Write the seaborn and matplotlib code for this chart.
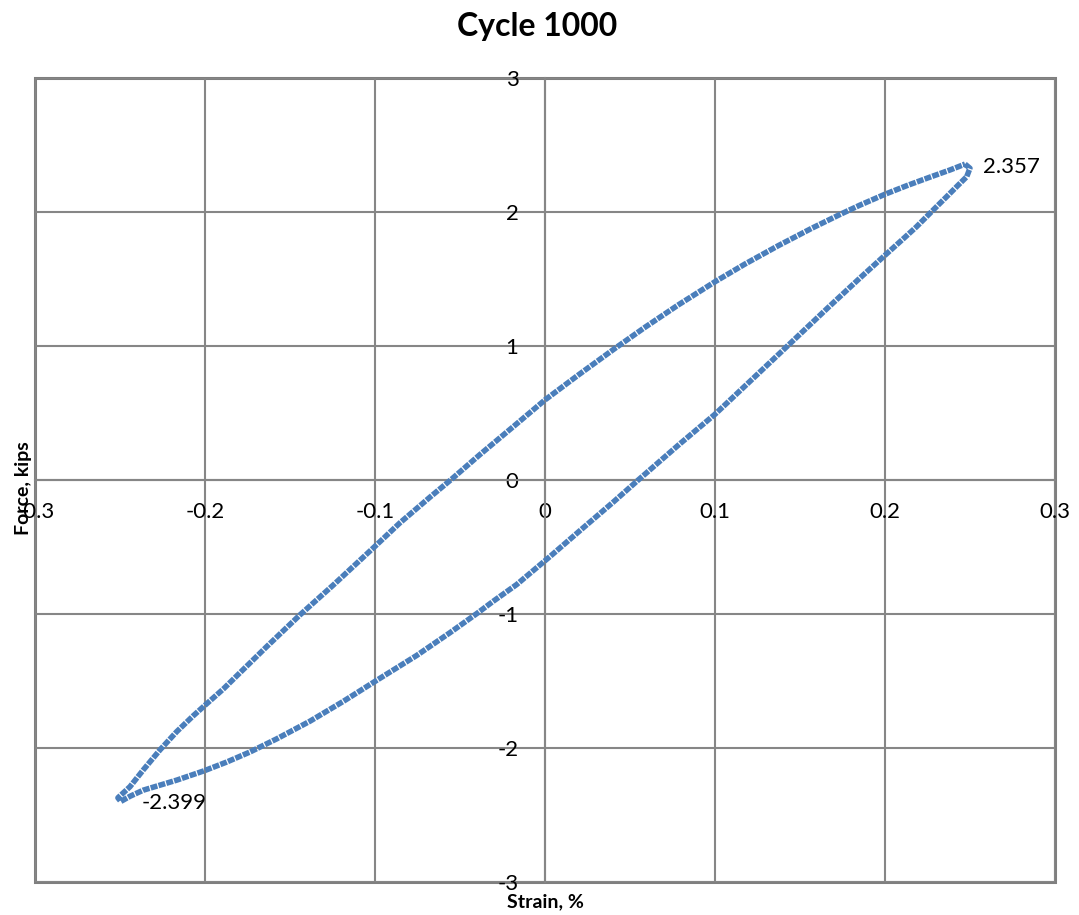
import matplotlib.pyplot as plt
import seaborn as sns

# hysteresis loop: unloading branch from the top tip,
# then the loading branch back up
strain = [0.2471, 0.2500, 0.2481, 0.2422, 0.2363, 0.2304, 0.2186, 0.2108, 0.2010, 0.1931,
          0.1853, 0.1667, 0.1431, 0.1176, 0.1000, 0.0794, 0.0549, 0.0402, 0.0206, 0.0029,
          -0.0166, -0.0304, -0.0402, -0.0559, -0.0755, -0.1002, -0.1186, -0.1382, -0.1578, -0.1735,
          -0.1872, -0.2004, -0.2166, -0.2363, -0.2440, -0.2495, -0.2512, -0.2441, -0.2363, -0.2265,
          -0.2166, -0.2069, -0.2004, -0.1892, -0.1637, -0.1441, -0.1245, -0.1002, -0.0853, -0.0676,
          -0.0550, -0.0382, -0.0186, 0.0000, 0.0196, 0.0412, 0.0588, 0.0784, 0.1000, 0.1176,
          0.1372, 0.1569, 0.1735, 0.1853, 0.2000, 0.2128, 0.2265, 0.2382, 0.2471]
force = [2.357, 2.326, 2.263, 2.189, 2.114, 2.040, 1.890, 1.800, 1.688, 1.597,
         1.507, 1.288, 1.005, 0.700, 0.490, 0.270, 0.000, -0.165, -0.378, -0.572,
         -0.780, -0.905, -0.998, -1.140, -1.310, -1.505, -1.652, -1.800, -1.932, -2.030,
         -2.105, -2.170, -2.240, -2.315, -2.360, -2.399, -2.372, -2.289, -2.164, -2.015,
         -1.878, -1.760, -1.686, -1.560, -1.244, -1.007, -0.784, -0.498, -0.320, -0.128,
         0.005, 0.190, 0.398, 0.597, 0.783, 0.982, 1.139, 1.306, 1.479, 1.611,
         1.748, 1.878, 1.981, 2.051, 2.132, 2.196, 2.260, 2.313, 2.357]

x_ticks = [-0.3, -0.2, -0.1, 0, 0.1, 0.2, 0.3]
x_tick_labels = ["-0.3", "-0.2", "-0.1", "0", "0.1", "0.2", "0.3"]
y_ticks = [-3, -2, -1, 0, 1, 2, 3]
y_tick_labels = ["-3", "-2", "-1", "0", "1", "2", "3"]

sns.set_style("white")
plt.rcParams['font.family'] = ['Lato', 'DejaVu Sans']
plt.rcParams['text.color'] = 'black'
plt.rcParams['axes.labelcolor'] = 'black'
plt.rcParams['xtick.color'] = 'black'
plt.rcParams['ytick.color'] = 'black'

grey = "#868686"
blue = "#4A7EBB"

fig = plt.figure(figsize=(10.79, 9.15), dpi=100)
ax = fig.add_axes([0.0324, 0.0361, 0.9453, 0.8787])

sns.lineplot(x=strain, y=force, sort=False, estimator=None, color=blue,
             linewidth=4.0, linestyle=(0, (1.25, 0.22)), ax=ax)

ax.set_xlim(-0.3, 0.3)
ax.set_ylim(-3, 3)
ax.set_xticks(x_ticks, x_tick_labels)
ax.set_yticks(y_ticks, y_tick_labels)
ax.grid(True, color=grey, linewidth=1.5)
ax.set_axisbelow(True)

# excel style: axes cross at zero, outer box drawn by the axes patch
ax.spines['top'].set_visible(False)
ax.spines['right'].set_visible(False)
ax.spines['left'].set_position('zero')
ax.spines['bottom'].set_position('zero')
for s in ['left', 'bottom']:
    ax.spines[s].set_color(grey)
    ax.spines[s].set_linewidth(1.5)
    ax.spines[s].set_zorder(1)
ax.patch.set_edgecolor("#7F7F7F")
ax.patch.set_linewidth(2.2)

ax.tick_params(axis='x', length=0, labelsize=16, pad=16)
ax.tick_params(axis='y', length=0, labelsize=16, pad=19)

ax.set_xlabel("Strain, %", fontsize=14, fontweight='bold')
ax.xaxis.set_label_coords(0.5, -0.0135)
ax.set_ylabel("Force, kips", fontsize=14, fontweight='bold')
ax.yaxis.set_label_coords(-0.003, 0.49)

# peak labels
i_max = force.index(max(force))
i_min = force.index(min(force))
ax.annotate(f"{force[i_max]:.3f}", (strain[i_max], force[i_max]), xytext=(13, -2),
            textcoords='offset points', fontsize=16, ha='left', va='center')
ax.annotate(f"{force[i_min]:.3f}", (strain[i_min], force[i_min]), xytext=(15, -1),
            textcoords='offset points', fontsize=16, ha='left', va='center')

fig.text(537 / 1079, 1 - 36 / 915, "Cycle 1000", fontsize=23, fontweight='bold',
         ha='center', va='baseline')

fig.savefig("out.png", dpi=100)
